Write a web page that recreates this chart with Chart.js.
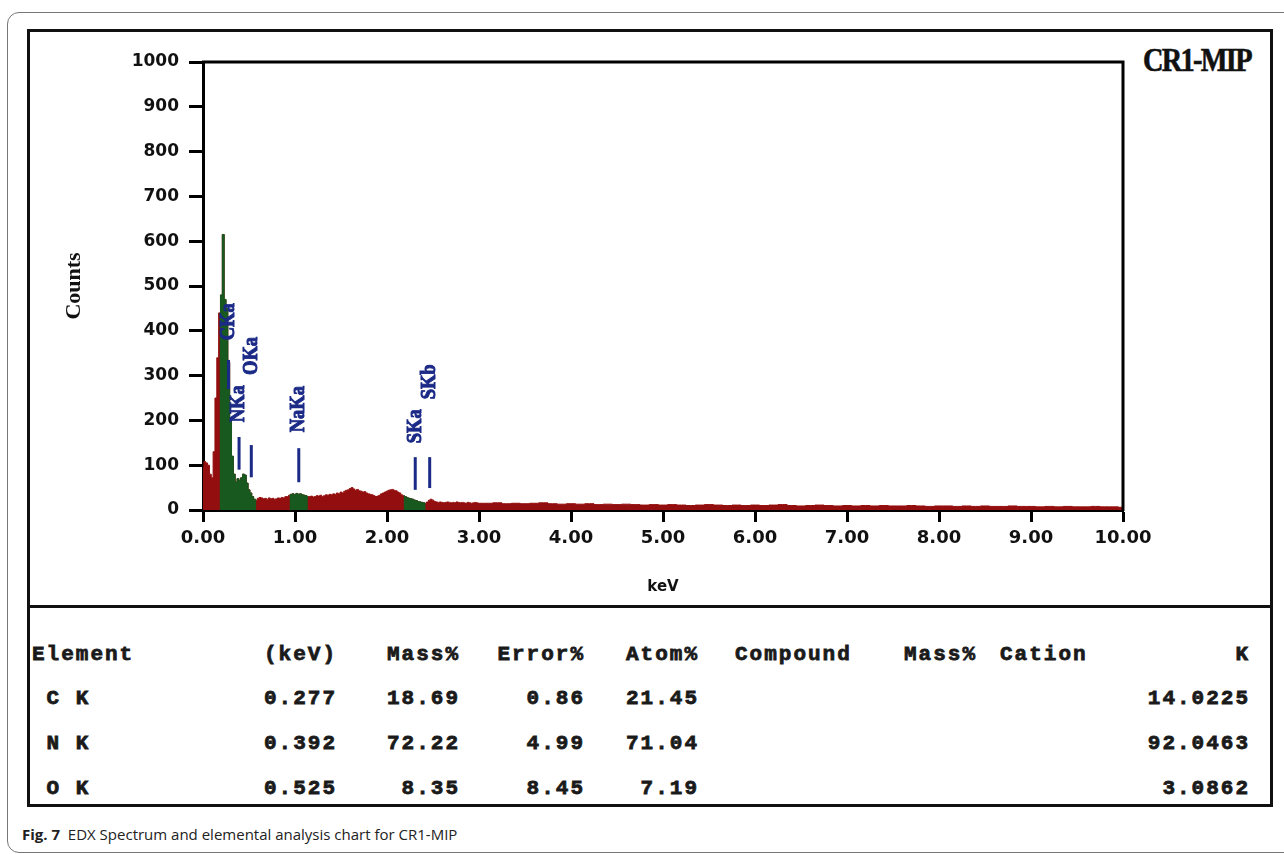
<!DOCTYPE html>
<html>
<head>
<meta charset="utf-8">
<script src="https://cdn.jsdelivr.net/npm/chart.js@4.4.1/dist/chart.umd.min.js"></script>
<style>
  body { margin: 0; background: #fff; width: 1284px; height: 854px; overflow: hidden; position: relative; }
  #frame { position: absolute; left: 7px; top: 12px; width: 1300px; height: 839px; border: 1px solid #777; border-radius: 12px; }
  #box { position: absolute; left: 27px; top: 29px; width: 1240px; height: 772px; border: 3px solid #111; }
  #divider { position: absolute; left: 27px; top: 605px; width: 1246px; height: 3px; background: #111; }
  #spectrum { position: absolute; left: 0; top: 0; }
  #title { position: absolute; left: 1143px; top: 44px; font: bold 33px 'Liberation Serif', serif; line-height: 33px;
           letter-spacing: -2px; transform: scaleX(0.86); transform-origin: left top; color: #111; white-space: nowrap;
           -webkit-text-stroke: 0.6px #111; }
  .cell { position: absolute; font: bold 21px 'Liberation Mono', monospace; letter-spacing: 2px; line-height: 24px;
          white-space: pre; color: #1a1a1a; -webkit-text-stroke: 0.8px #1a1a1a; }
  #caption { position: absolute; left: 22px; top: 824px; font: 15px 'Open Sans', sans-serif; color: #222; white-space: nowrap; }
  #caption b { font-weight: 700; }
</style>
</head>
<body>
<div id="frame"></div>
<div id="box"></div>
<div id="divider"></div>
<div id="title">CR1-MIP</div>
<canvas id="spectrum" width="1284" height="607"></canvas>
<div id="table"></div>
<div id="caption"><b>Fig. 7</b>&nbsp; EDX Spectrum and elemental analysis chart for CR1-MIP</div>
<script>
// Spectre EDX : canaux de 0.02 keV de 0 a 3 keV, puis 0.1 keV jusqu'a 10 keV
const lowStep = 0.02;
const highStart = 3.1;
const highStep = 0.1;
const countsLow = [
  95, 108, 105, 100, 80, 72, 130, 250, 340, 440,
  480, 615, 470, 450, 330, 200, 120, 80, 62, 70,
  66, 72, 80, 78, 60, 45, 38, 30, 24, 22,
  26, 28, 27, 25, 26, 24, 27, 25, 26, 24,
  25, 27, 26, 28, 27, 30, 30, 33, 35, 36,
  34, 37, 35, 36, 34, 33, 32, 30, 30, 31,
  29, 30, 32, 31, 33, 30, 32, 34, 33, 35,
  34, 36, 35, 38, 36, 40, 38, 42, 44, 45,
  48, 50, 47, 44, 46, 43, 42, 40, 41, 38,
  36, 35, 34, 32, 30, 31, 33, 36, 38, 40,
  42, 44, 45, 46, 44, 43, 40, 38, 34, 32,
  30, 28, 26, 25, 24, 22, 21, 19, 18, 17,
  16, 15, 18, 22, 24, 22, 19, 18, 17, 18,
  17, 16, 17, 18, 17, 16, 17, 16, 18, 17,
  16, 17, 16, 15, 17, 16, 15, 16, 17, 16,
  15
];
const countsHigh = [
  15, 16, 14, 15, 14, 15, 16, 14, 13, 14,
  13, 14, 12, 13, 12, 13, 12, 11, 12, 11,
  12, 11, 10, 11, 12, 11, 10, 11, 10, 11,
  10, 11, 12, 10, 9, 10, 11, 10, 9, 10,
  9, 10, 9, 10, 9, 9, 10, 9, 8, 9,
  9, 8, 9, 8, 9, 8, 8, 9, 8, 8,
  7, 8, 7, 8, 7, 7, 8, 7, 7, 6
];
// zones des pics (en vert)
const greenRanges = [[0.17, 0.59], [0.93, 1.15], [2.17, 2.43]];

// raies identifiees
const peakNames = ['CKa', 'NKa', 'OKa', 'NaKa', 'SKa', 'SKb'];
const peakKeV = [0.277, 0.392, 0.525, 1.041, 2.307, 2.464];

// graduations
const yTicks = [0, 100, 200, 300, 400, 500, 600, 700, 800, 900, 1000];
const xTicks = [0, 1, 2, 3, 4, 5, 6, 7, 8, 9, 10];

// tableau d'analyse
const tableHeader = ['Element', '(keV)', 'Mass%', 'Error%', 'Atom%', 'Compound', 'Mass%', 'Cation', 'K'];
const elements = [' C K', ' N K', ' O K'];
const lineKeV = ['0.277', '0.392', '0.525'];
const massPct = ['18.69', '72.22', '8.35'];
const errorPct = ['0.86', '4.99', '8.45'];
const atomPct = ['21.45', '71.04', '7.19'];
const kRatio = ['14.0225', '92.0463', '3.0862'];

const points = countsLow.map((c, i) => ({ x: +(i * lowStep).toFixed(2), y: c }))
  .concat(countsHigh.map((c, i) => ({ x: +(highStart + i * highStep).toFixed(2), y: c })));
const inGreen = x => greenRanges.some(r => x >= r[0] && x <= r[1]);
const greenPoints = points.map(p => ({ x: p.x, y: inGreen(p.x) ? p.y : null }));

const red = '#930e0e';
const green = '#17591f';
const navy = '#1b2a86';

// cadre haut et droit du graphe
const framePlugin = {
  id: 'frame',
  afterDraw(chart) {
    const { ctx, chartArea: a } = chart;
    ctx.save();
    ctx.strokeStyle = '#000';
    ctx.lineWidth = 3;
    ctx.beginPath();
    ctx.moveTo(a.left - 1, a.top);
    ctx.lineTo(a.right, a.top);
    ctx.lineTo(a.right, a.bottom + 1);
    ctx.stroke();
    ctx.restore();
  }
};

// marqueurs des raies
const peakPlugin = {
  id: 'peaks',
  afterDatasetsDraw(chart, args, opts) {
    const { ctx, scales: { x, y } } = chart;
    ctx.save();
    ctx.strokeStyle = navy;
    ctx.fillStyle = navy;
    ctx.font = 'bold 21px "Liberation Serif", serif';
    ctx.textAlign = 'center';
    ctx.textBaseline = 'middle';
    peakNames.forEach((name, i) => {
      const px = x.getPixelForValue(peakKeV[i]);
      ctx.lineWidth = 3;
      ctx.beginPath();
      ctx.moveTo(px, y.getPixelForValue(opts.lineLo[i]));
      ctx.lineTo(px, y.getPixelForValue(opts.lineHi[i]));
      ctx.stroke();
      ctx.save();
      ctx.translate(px, y.getPixelForValue(opts.labelAt[i]));
      ctx.rotate(-Math.PI / 2);
      ctx.scale(0.88, 1);
      ctx.lineWidth = 1;
      ctx.fillText(name, 0, 0);
      ctx.strokeText(name, 0, 0);
      ctx.restore();
    });
    ctx.restore();
  }
};

new Chart(document.getElementById('spectrum'), {
  type: 'line',
  data: {
    datasets: [
      {
        data: greenPoints,
        borderColor: green,
        backgroundColor: green,
        borderWidth: 1,
        fill: 'origin',
        stepped: 'middle',
        pointRadius: 0,
        spanGaps: false,
        order: 1
      },
      {
        data: points,
        borderColor: red,
        backgroundColor: red,
        borderWidth: 1,
        fill: 'origin',
        stepped: 'middle',
        pointRadius: 0,
        order: 2
      }
    ]
  },
  options: {
    responsive: false,
    animation: false,
    events: [],
    layout: { padding: { left: 61, top: 62, right: 161, bottom: 11 } },
    plugins: {
      legend: { display: false },
      tooltip: { enabled: false },
      peaks: {
        lineLo: [270, 90, 73, 62, 45, 49],
        lineHi: [335, 163, 145, 138, 118, 118],
        labelAt: [420, 237, 344, 225, 187, 286]
      }
    },
    scales: {
      x: {
        type: 'linear',
        min: 0,
        max: 10,
        afterBuildTicks: s => { s.ticks = xTicks.map(v => ({ value: v })); },
        afterFit: s => { s.height = 86; },
        ticks: {
          color: '#111',
          padding: 6,
          maxRotation: 0,
          font: { family: 'DejaVu Sans', weight: 'bold', size: 18 },
          callback: v => v.toFixed(2)
        },
        grid: { drawOnChartArea: false, drawTicks: true, tickLength: 12, tickWidth: 3, tickColor: '#000' },
        border: { display: true, color: '#000', width: 3 },
        title: {
          display: true,
          text: 'keV',
          color: '#111',
          padding: 0,
          font: { family: 'DejaVu Sans', weight: 'bold', size: 15 }
        }
      },
      y: {
        min: 0,
        max: 1000,
        afterBuildTicks: s => { s.ticks = yTicks.map(v => ({ value: v })); },
        afterFit: s => { s.width = 142; },
        ticks: {
          color: '#111',
          padding: 10,
          font: { family: 'DejaVu Sans', weight: 'bold', size: 17 },
          callback: v => String(v)
        },
        grid: { drawOnChartArea: false, drawTicks: true, tickLength: 14, tickWidth: 3, tickColor: '#000' },
        border: { display: true, color: '#000', width: 3 },
        title: {
          display: true,
          text: 'Counts',
          color: '#111',
          padding: 0,
          font: { family: 'Liberation Serif', weight: 'bold', size: 22 }
        }
      }
    }
  },
  plugins: [framePlugin, peakPlugin]
});

// tableau sous le spectre
const rowCenters = [654, 698, 743, 788];
const colLeft = { 0: 32, 5: 735, 7: 1000 };
const colRight = { 1: 335, 2: 458, 3: 583, 4: 697, 6: 975, 8: 1248 };
const table = document.getElementById('table');
function addCell(text, col, row) {
  const d = document.createElement('div');
  d.className = 'cell';
  d.textContent = text;
  d.style.top = (rowCenters[row] - 11) + 'px';
  if (col in colLeft) {
    d.style.left = colLeft[col] + 'px';
  } else {
    d.style.right = (1284 - colRight[col] - 2) + 'px';
    d.style.textAlign = 'right';
  }
  table.appendChild(d);
}
tableHeader.forEach((t, c) => addCell(t, c, 0));
elements.forEach((el, r) => {
  addCell(el, 0, r + 1);
  addCell(lineKeV[r], 1, r + 1);
  addCell(massPct[r], 2, r + 1);
  addCell(errorPct[r], 3, r + 1);
  addCell(atomPct[r], 4, r + 1);
  addCell(kRatio[r], 8, r + 1);
});
</script>
</body>
</html>
